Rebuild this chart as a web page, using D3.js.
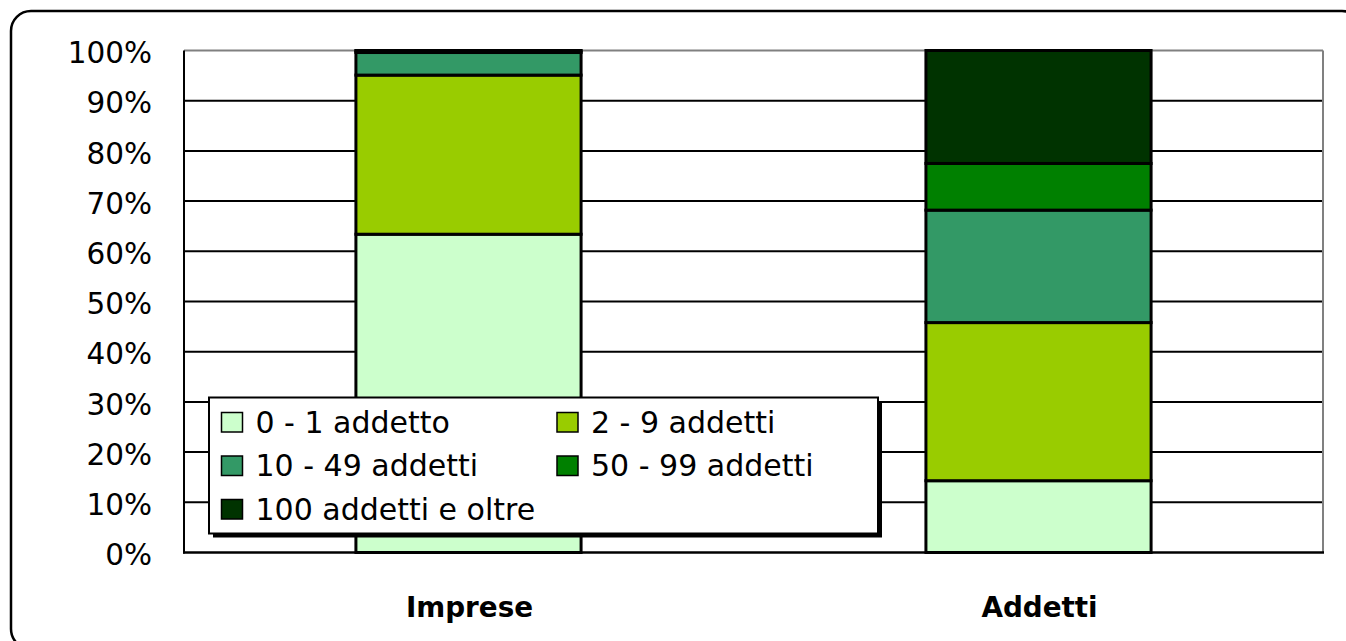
<!DOCTYPE html>
<html>
<head>
<meta charset="utf-8">
<script src="https://cdn.jsdelivr.net/npm/d3@7"></script>
<style>
html,body{margin:0;padding:0;background:#fff;}
svg{display:block;}
</style>
</head>
<body>
<svg id="chart" width="1346" height="641"></svg>
<script>
// ---- data ----
const categories = ["Imprese", "Addetti"];
const seriesNames = ["0 - 1 addetto", "2 - 9 addetti", "10 - 49 addetti", "50 - 99 addetti", "100 addetti e oltre"];
const s_0_1 = [63.4, 14.3];
const s_2_9 = [31.7, 31.5];
const s_10_49 = [4.5, 22.4];
const s_50_99 = [0.3, 9.3];
const s_100 = [0.1, 22.5];
const seriesColors = ["#CCFFCC", "#99CC00", "#339966", "#008000", "#003300"];
const yTicks = [0, 10, 20, 30, 40, 50, 60, 70, 80, 90, 100];

const seriesValues = [s_0_1, s_2_9, s_10_49, s_50_99, s_100];
const rows = categories.map((c, i) => {
  const r = {cat: c};
  seriesNames.forEach((s, j) => r[s] = seriesValues[j][i]);
  return r;
});

const svg = d3.select("#chart");
const plot = {left: 184, right: 1323, top: 50.5, bottom: 552.5};

// outer frame
svg.append("rect")
  .attr("x", 11).attr("y", 11).attr("width", 1351).attr("height", 638)
  .attr("rx", 20).attr("ry", 20)
  .attr("fill", "none").attr("stroke", "#000").attr("stroke-width", 2.5);

const x = d3.scaleBand().domain(categories)
  .range([plot.left, plot.right]).paddingInner(0.605).paddingOuter(0.3016);
const y = d3.scaleLinear().domain([0, 100]).range([plot.bottom, plot.top]);

// gridlines
svg.append("g").selectAll("line").data(yTicks.filter(t => t > 0)).join("line")
  .attr("x1", plot.left).attr("x2", plot.right)
  .attr("y1", d => y(d)).attr("y2", d => y(d))
  .attr("stroke", d => d === 100 ? "#808080" : "#000")
  .attr("stroke-width", 2);

// right border gray
svg.append("line").attr("x1", plot.right).attr("x2", plot.right)
  .attr("y1", plot.top).attr("y2", plot.bottom)
  .attr("stroke", "#808080").attr("stroke-width", 2);

// bars
const stack = d3.stack().keys(seriesNames);
const stacked = stack(rows);
svg.append("g").selectAll("g").data(stacked).join("g")
  .attr("fill", (d, i) => seriesColors[i])
  .selectAll("rect").data(d => d).join("rect")
  .attr("x", d => x(d.data.cat))
  .attr("width", x.bandwidth())
  .attr("y", d => y(d[1]))
  .attr("height", d => y(d[0]) - y(d[1]))
  .attr("stroke", "#000").attr("stroke-width", 3);

// axes lines (left & bottom black)
svg.append("line").attr("x1", plot.left).attr("x2", plot.left)
  .attr("y1", plot.top).attr("y2", plot.bottom + 1)
  .attr("stroke", "#000").attr("stroke-width", 2);
svg.append("line").attr("x1", plot.left - 1).attr("x2", plot.right + 1)
  .attr("y1", plot.bottom).attr("y2", plot.bottom)
  .attr("stroke", "#000").attr("stroke-width", 2.5);

// y axis labels
const yAxis = d3.axisLeft(y).tickValues(yTicks).tickFormat(d => d + "%").tickSize(0).tickPadding(0);
const ga = svg.append("g").attr("transform", `translate(152,0)`).call(yAxis);
ga.select(".domain").remove();
ga.selectAll("text")
  .attr("font-family", "'DejaVu Sans', Verdana, sans-serif")
  .attr("font-size", 29.5).attr("fill", "#000")
  .attr("dy", "0.41em").attr("x", 0);

// x axis labels
const xAxis = d3.axisBottom(x).tickSize(0).tickPadding(0);
const gx = svg.append("g").attr("transform", `translate(1,0)`).call(xAxis);
gx.select(".domain").remove();
gx.selectAll("text")
  .attr("font-family", "'DejaVu Sans', Verdana, sans-serif")
  .attr("font-weight", "bold")
  .attr("font-size", 27.8).attr("fill", "#000")
  .attr("y", 617).attr("dy", 0);

// legend
const leg = {x: 209, y: 397.5, w: 669, h: 136};
svg.append("rect").attr("x", leg.x + 4).attr("y", leg.y + 4)
  .attr("width", leg.w).attr("height", leg.h).attr("fill", "#000");
svg.append("rect").attr("x", leg.x).attr("y", leg.y)
  .attr("width", leg.w).attr("height", leg.h)
  .attr("fill", "#fff").attr("stroke", "#000").attr("stroke-width", 2);

const colX = [221.5, 557];
const rowBase = [432.5, 476, 519.5];
const items = svg.append("g").selectAll("g").data(seriesNames).join("g")
  .attr("transform", (d, i) => `translate(${colX[i % 2]},${rowBase[Math.floor(i / 2)]})`);
items.append("rect")
  .attr("x", 0).attr("y", -20).attr("width", 21).attr("height", 19.5)
  .attr("fill", (d, i) => seriesColors[i])
  .attr("stroke", "#000").attr("stroke-width", 1.5);
items.append("text")
  .attr("x", 34).attr("y", 0)
  .attr("font-family", "'DejaVu Sans', Verdana, sans-serif")
  .attr("font-size", 30).attr("fill", "#000")
  .text(d => d);
</script>
</body>
</html>
